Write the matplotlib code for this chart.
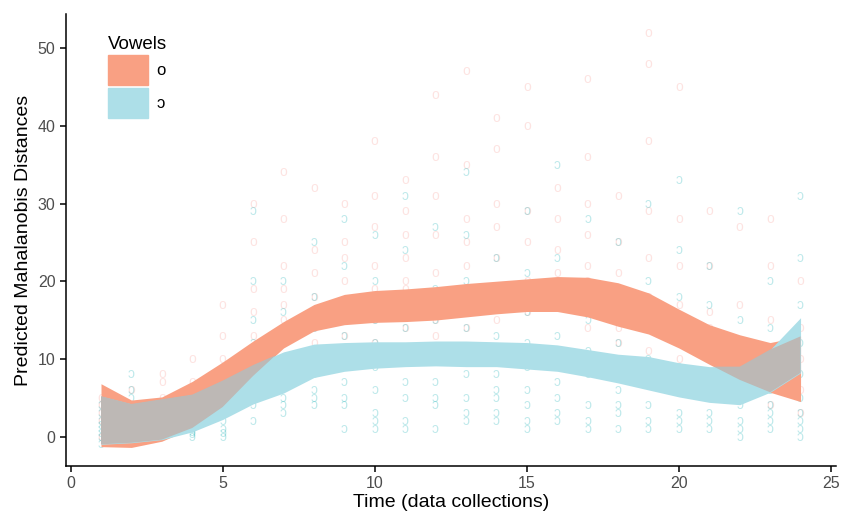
import numpy as np
import matplotlib
matplotlib.use("Agg")
import matplotlib.pyplot as plt
from matplotlib.patches import Patch

plt.rcParams['font.family'] = ['Liberation Sans', 'DejaVu Sans']

# time points (data collections)
time = np.arange(1, 25)

# ribbon for /o/
o_hi = [6.8, 4.7, 5.1, 7.1, 9.6, 12.3, 14.8, 17.0, 18.3, 18.8, 19.0, 19.3,
        19.7, 20.0, 20.3, 20.6, 20.5, 19.8, 18.5, 16.4, 14.4, 13.1, 12.1, 12.9]
o_lo = [-1.3, -1.4, -0.6, 1.1, 3.8, 7.8, 11.4, 13.6, 14.4, 14.7, 14.8, 15.0,
        15.4, 15.8, 16.1, 16.1, 15.4, 14.2, 13.2, 11.4, 9.3, 7.3, 5.7, 4.5]

# ribbon for /ɔ/
b_hi = [5.2, 4.2, 4.8, 5.4, 7.2, 9.2, 10.9, 11.9, 12.1, 12.2, 12.2, 12.3,
        12.3, 12.2, 12.1, 11.8, 11.2, 10.6, 10.3, 9.5, 9.0, 9.0, 11.2, 15.3]
b_lo = [-1.0, -0.8, -0.4, 0.6, 2.2, 4.2, 5.6, 7.6, 8.4, 8.8, 9.0, 9.1,
        9.0, 9.0, 8.7, 8.4, 7.7, 6.9, 6.0, 5.1, 4.4, 4.1, 5.7, 8.2]

# raw points, one list per time point
o_pts = [[0, 2, 3, 4, 5], [0, 1, 4, 6], [1, 3, 5, 7, 8], [2, 5, 7, 10],
         [4, 8, 10, 13, 17], [8, 11, 13, 16, 19, 25, 30],
         [10, 13, 15, 17, 19, 22, 28, 34], [12, 14, 16, 18, 21, 24, 32],
         [13, 15, 17, 20, 23, 25, 30], [12, 15, 17, 19, 22, 27, 31, 38],
         [14, 17, 19, 20, 23, 26, 29, 33], [13, 15, 17, 21, 26, 31, 36, 44],
         [14, 16, 18, 22, 25, 28, 35, 47], [15, 17, 19, 23, 27, 30, 37, 41],
         [16, 18, 20, 25, 29, 40, 45], [17, 19, 21, 24, 28, 32],
         [14, 18, 20, 22, 26, 30, 36, 46], [12, 14, 16, 21, 25, 31],
         [11, 14, 18, 23, 29, 38, 48, 52], [10, 13, 17, 22, 28, 45],
         [8, 11, 14, 16, 22, 29], [5, 8, 12, 17, 27],
         [4, 7, 11, 15, 22, 28], [3, 6, 10, 14, 20]]
b_pts = [[-1, 0, 0.5, 1, 1.5, 2, 3, 4], [-0.5, 0, 1, 2, 3, 5, 6, 8],
         [0, 1, 2, 4], [0, 0.3, 0.6, 1, 2, 4, 6],
         [0, 0.5, 1, 2, 3, 5, 7, 9], [2, 4, 6, 8, 9, 12, 15, 20, 29],
         [3, 4, 5, 7, 9, 12, 16, 20], [4, 5, 6, 8, 11, 14, 18, 25],
         [1, 4, 5, 7, 10, 13, 17, 22, 28], [1, 2, 3, 6, 9, 12, 15, 20, 26],
         [1, 2, 5, 7, 10, 14, 18, 24, 31], [1, 4, 5, 7, 11, 15, 19, 27],
         [2, 3, 5, 8, 11, 14, 20, 26, 34], [2, 3, 5, 6, 8, 10, 13, 17, 23],
         [1, 2, 4, 6, 9, 12, 16, 21, 29], [2, 3, 5, 7, 10, 13, 18, 23, 35],
         [1, 2, 4, 8, 11, 15, 19, 28], [1, 3, 4, 6, 9, 12, 17, 25],
         [1, 2, 4, 7, 10, 14, 20, 30], [1, 2, 3, 6, 9, 13, 18, 24, 33],
         [1, 2, 3, 5, 8, 12, 17, 22], [0, 1, 2, 4, 7, 10, 15, 29],
         [1, 2, 3, 4, 6, 9, 14, 20], [0, 1, 2, 3, 5, 8, 12, 17, 23, 31]]

col_o = "#F9A083"
col_b = "#ADDFE8"
col_ov = "#BDB8B5"

fig = plt.figure(figsize=(8.41, 5.19), dpi=100)
ax = fig.add_axes([0.0785, 0.102, 0.915, 0.871])

for t, ys in zip(time, o_pts):
    for y in ys:
        ax.text(t, y, "o", color="#F8766D", alpha=0.2, fontsize=10,
                ha="center", va="center", zorder=1)
for t, ys in zip(time, b_pts):
    for y in ys:
        ax.text(t, y, "ɔ", color="#00A9B0", alpha=0.25, fontsize=10,
                ha="center", va="center", zorder=1)

o_hi = np.array(o_hi); o_lo = np.array(o_lo)
b_hi = np.array(b_hi); b_lo = np.array(b_lo)

ax.fill_between(time, o_lo, o_hi, color=col_o, lw=0, zorder=2)
ax.fill_between(time, b_lo, b_hi, color=col_b, lw=0, zorder=3)
ov_lo = np.maximum(o_lo, b_lo)
ov_hi = np.minimum(o_hi, b_hi)
ax.fill_between(time, ov_lo, ov_hi, where=ov_hi > ov_lo, interpolate=True,
                color=col_ov, lw=0, zorder=4)

ax.set_xlim(-0.15, 25.15)
ax.set_ylim(-3.8, 54.4)
ax.set_xticks([0, 5, 10, 15, 20, 25])
ax.set_yticks([0, 10, 20, 30, 40, 50])

for s in ["top", "right"]:
    ax.spines[s].set_visible(False)
for s in ["left", "bottom"]:
    ax.spines[s].set_linewidth(1.1)
ax.tick_params(labelsize=11.5, labelcolor="#4D4D4D", length=4, width=1.1)

ax.set_xlabel("Time (data collections)", fontsize=14, labelpad=2)
ax.set_ylabel("Predicted Mahalanobis Distances", fontsize=14, labelpad=4)

handles = [Patch(color=col_o, label="o"), Patch(color=col_b, label="ɔ")]
leg = ax.legend(handles=handles, title="Vowels", loc="upper left",
                bbox_to_anchor=(0.035, 0.985), frameon=False, fontsize=12,
                title_fontsize=13.5, handlelength=2.4, handleheight=2.4,
                labelspacing=0.15, handletextpad=0.5, alignment="left")

fig.savefig("out.png", dpi=100)
